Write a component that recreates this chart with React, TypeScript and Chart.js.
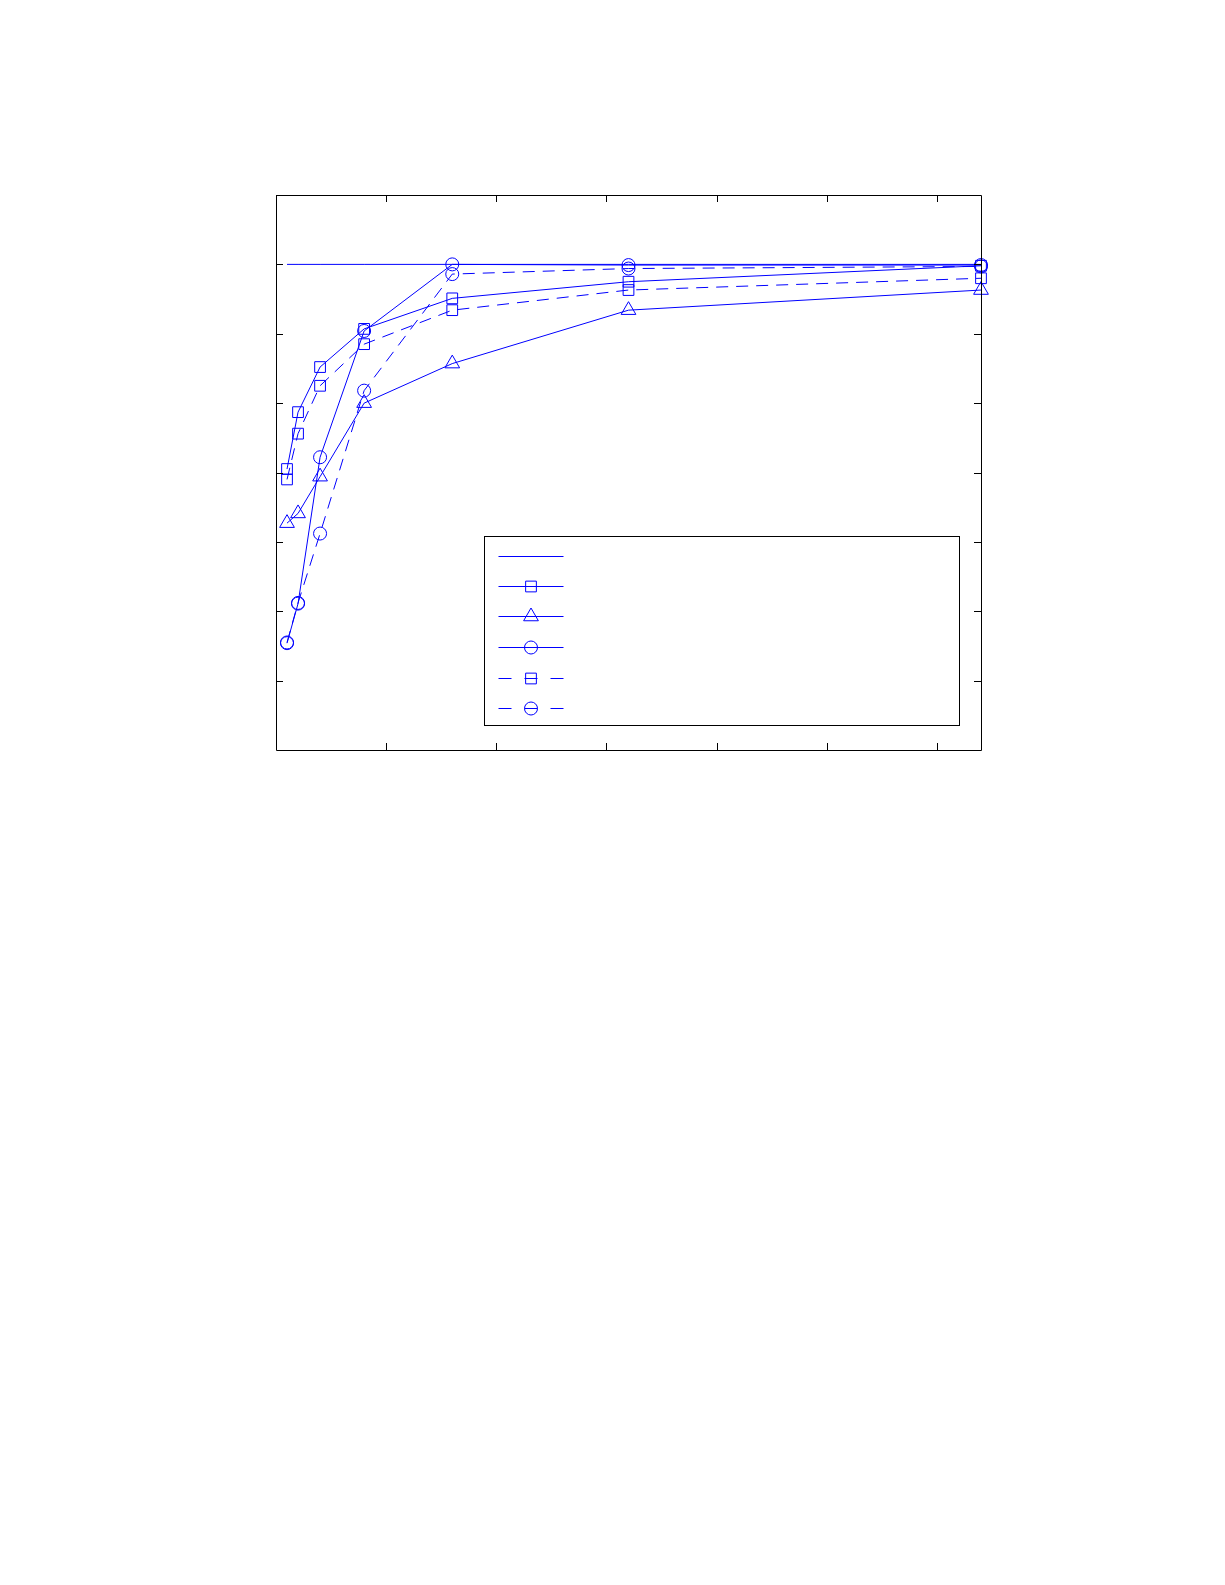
import React, { useEffect, useRef } from "react";
import { Chart, registerables } from "chart.js";

Chart.register(...registerables);

const xValues = [2, 4, 8, 16, 32, 64, 128];
const referenceLine = [1, 1, 1, 1, 1, 1, 1];
const solidSquare = [0.705, 0.787, 0.852, 0.907, 0.951, 0.975, 0.998];
const solidTriangle = [0.627, 0.641, 0.694, 0.8, 0.857, 0.934, 0.963];
const solidCircle = [0.454, 0.511, 0.722, 0.904, 1.0, 0.999, 0.999];
const dashedSquare = [0.69, 0.756, 0.825, 0.885, 0.934, 0.963, 0.98];
const dashedCircle = [0.455, 0.512, 0.612, 0.818, 0.986, 0.994, 0.997];

const xTicks = [0, 20, 40, 60, 80, 100, 120];
const yTicks = [0.4, 0.5, 0.6, 0.7, 0.8, 0.9, 1.0];

const BLUE = "#0000ff";

type SeriesDef = {
  values: number[];
  style: string | false;
  radius: number;
  dashed: boolean;
};

const series: SeriesDef[] = [
  { values: referenceLine, style: false, radius: 0, dashed: false },
  { values: solidSquare, style: "rect", radius: 7.6, dashed: false },
  { values: solidTriangle, style: "triangle", radius: 8.5, dashed: false },
  { values: solidCircle, style: "circle", radius: 6.5, dashed: false },
  { values: dashedSquare, style: "rect", radius: 7.6, dashed: true },
  { values: dashedCircle, style: "circle", radius: 6.5, dashed: true },
];

function drawMarker(ctx: CanvasRenderingContext2D, style: string | false, x: number, y: number, r: number) {
  if (!style) return;
  ctx.beginPath();
  if (style === "rect") {
    const s = Math.SQRT1_2 * r;
    ctx.rect(x - s, y - s, 2 * s, 2 * s);
  } else if (style === "circle") {
    ctx.arc(x, y, r, 0, Math.PI * 2);
  } else if (style === "triangle") {
    let rad = 0;
    ctx.moveTo(x + Math.sin(rad) * r, y - Math.cos(rad) * r);
    rad += (2 * Math.PI) / 3;
    ctx.lineTo(x + Math.sin(rad) * r, y - Math.cos(rad) * r);
    rad += (2 * Math.PI) / 3;
    ctx.lineTo(x + Math.sin(rad) * r, y - Math.cos(rad) * r);
    ctx.closePath();
  }
  ctx.stroke();
}

const framePlugin = {
  id: "frameAndLegend",
  afterDatasetsDraw(chart: any) {
    const ctx: CanvasRenderingContext2D = chart.ctx;
    const { left, right, top, bottom } = chart.chartArea;
    const xs = chart.scales.x;
    const ys = chart.scales.y;
    const tick = 7;
    ctx.save();
    ctx.strokeStyle = "#000";
    ctx.lineWidth = 1;
    ctx.setLineDash([]);
    ctx.beginPath();
    ctx.rect(Math.round(left) + 0.5, Math.round(top) + 0.5, Math.round(right - left), Math.round(bottom - top));
    ctx.stroke();
    ctx.beginPath();
    for (const v of xTicks) {
      const px = Math.round(xs.getPixelForValue(v)) + 0.5;
      ctx.moveTo(px, bottom);
      ctx.lineTo(px, bottom - tick);
      ctx.moveTo(px, top);
      ctx.lineTo(px, top + tick);
    }
    for (const v of yTicks) {
      const py = Math.round(ys.getPixelForValue(v)) + 0.5;
      ctx.moveTo(left, py);
      ctx.lineTo(left + tick, py);
      ctx.moveTo(right, py);
      ctx.lineTo(right - tick, py);
    }
    ctx.stroke();

    // legend box
    const bx = Math.round(left + 208) + 0.5;
    const by = Math.round(top + 341) + 0.5;
    const bw = Math.round(right - 22.5 - (left + 208));
    const bh = Math.round(bottom - 25 - (top + 341));
    ctx.fillStyle = "#fff";
    ctx.fillRect(bx, by, bw, bh);
    ctx.strokeStyle = "#000";
    ctx.strokeRect(bx, by, bw, bh);

    const rowOffsets = [19, 49, 79, 110, 141, 171];
    ctx.strokeStyle = BLUE;
    ctx.lineWidth = 1;
    series.forEach((s, i) => {
      const ry = Math.round(by + rowOffsets[i]) + 0.5;
      const x0 = bx + 14;
      const x1 = bx + 79;
      ctx.setLineDash(s.dashed ? [13, 13] : []);
      ctx.beginPath();
      ctx.moveTo(x0, ry);
      ctx.lineTo(x1, ry);
      ctx.stroke();
      ctx.setLineDash([]);
      drawMarker(ctx, s.style, (x0 + x1) / 2, ry, s.radius);
    });
    ctx.restore();
  },
};

export default function App() {
  const ref = useRef<HTMLCanvasElement | null>(null);
  useEffect(() => {
    if (!ref.current) return;
    const chart = new Chart(ref.current, {
      type: "line",
      data: {
        datasets: series.map((s) => ({
          data: xValues.map((x, i) => ({ x, y: s.values[i] })),
          borderColor: BLUE,
          backgroundColor: "rgba(0,0,0,0)",
          borderWidth: 1,
          borderDash: s.dashed ? [12, 8] : [],
          pointStyle: s.style as any,
          pointRadius: s.radius,
          pointBorderColor: BLUE,
          pointBackgroundColor: "rgba(0,0,0,0)",
          pointBorderWidth: 1,
          fill: false,
          tension: 0,
          clip: false as any,
        })),
      },
      options: {
        animation: false,
        responsive: false,
        devicePixelRatio: 1,
        layout: { padding: 10 },
        plugins: { legend: { display: false }, tooltip: { enabled: false } },
        events: [],
        scales: {
          x: { type: "linear", min: 0, max: 128, display: false },
          y: { type: "linear", min: 0.3, max: 1.1, display: false },
        },
      },
      plugins: [framePlugin],
    });
    return () => chart.destroy();
  }, []);
  return (
    <div style={{ position: "relative", width: 1209, height: 800 }}>
      <canvas
        ref={ref}
        width={725}
        height={575}
        style={{ position: "absolute", left: 258, top: 177, width: 725, height: 575 }}
      />
    </div>
  );
}
